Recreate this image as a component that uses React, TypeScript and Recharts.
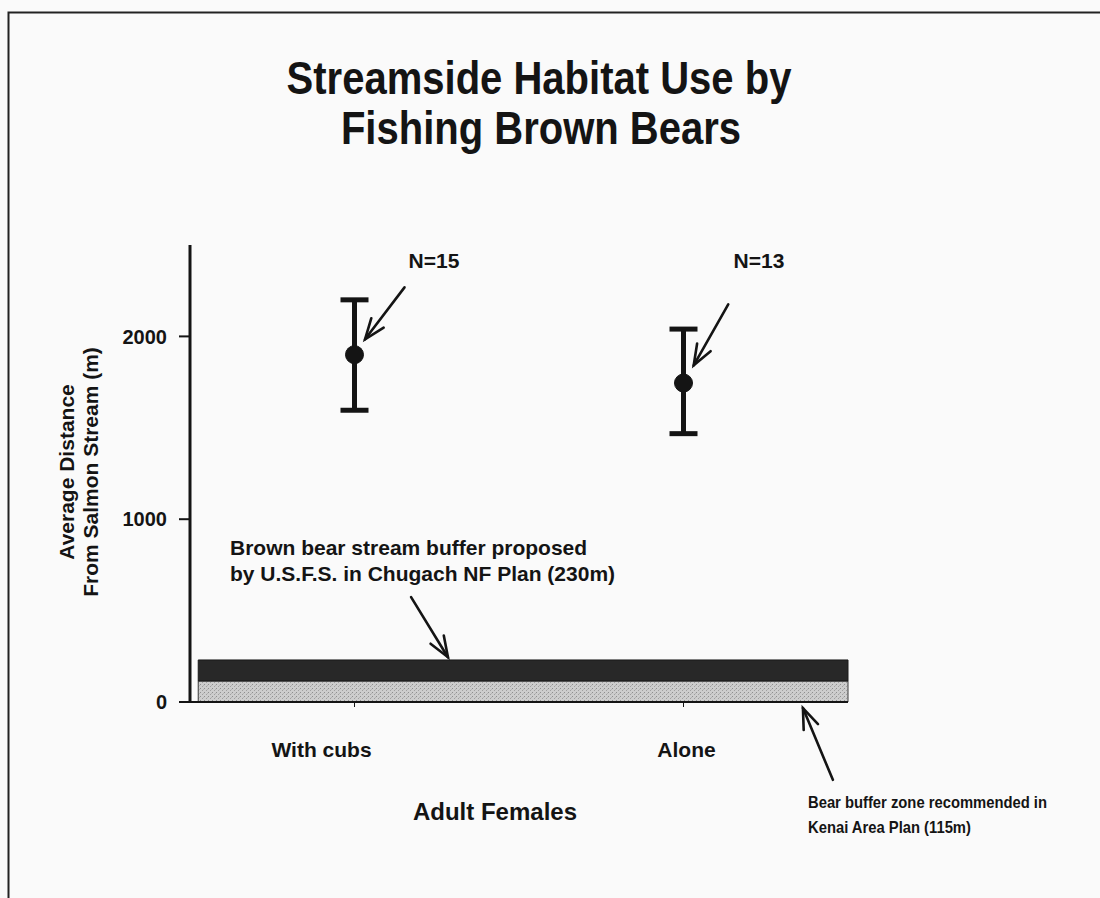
import React from 'react';
import { ComposedChart, Line, ErrorBar, XAxis, YAxis, ReferenceArea, ReferenceLine } from 'recharts';

// group means and error-bar ends (metres from stream)
const groups = ['With cubs', 'Alone'];
const groupPos = [0, 1];
const meanDistance = [1900, 1745];
const lowDistance = [1596, 1468];
const highDistance = [2200, 2040];
const sampleSizes = ['N=15', 'N=13'];
const yTicks = [0, 1000, 2000];
const kenaiBuffer = 115;
const usfsBuffer = 230;

const FONT = '"Liberation Sans", Arial, sans-serif';
const INK = '#141414';

const data = groups.map((name, i) => ({
  name,
  x: groupPos[i],
  mean: meanDistance[i],
  err: [meanDistance[i] - lowDistance[i], highDistance[i] - meanDistance[i]],
}));

// open arrowhead at the end of a reference segment
const arrowShape = (props: any) => {
  const { x1, y1, x2, y2 } = props;
  const ang = Math.atan2(y2 - y1, x2 - x1);
  const len = 22;
  const spread = 0.36;
  const ax = x2 - len * Math.cos(ang - spread);
  const ay = y2 - len * Math.sin(ang - spread);
  const bx = x2 - len * Math.cos(ang + spread);
  const by = y2 - len * Math.sin(ang + spread);
  return (
    <g stroke={INK} strokeWidth={2.6} fill="none" strokeLinecap="round">
      <line x1={x1} y1={y1} x2={x2} y2={y2} />
      <polyline points={`${ax},${ay} ${x2},${y2} ${bx},${by}`} />
    </g>
  );
};

const GroupTick = (props: any) => {
  const { x, y, payload } = props;
  const shift = payload.value === 0 ? -33 : 3;
  return (
    <text x={x + shift} y={y} dy={48} textAnchor="middle" fontFamily={FONT} fontWeight="bold" fontSize={21} fill={INK}>
      {groups[payload.value]}
    </text>
  );
};

export default function App() {
  return (
    <div style={{ position: 'absolute', left: 0, top: 0, width: 1100, height: 898, background: '#fafafa', overflow: 'hidden' }}>
      {/* stipple texture for the light buffer band */}
      <svg width={0} height={0} style={{ position: 'absolute' }}>
        <defs>
          <pattern id="stipple" width={4} height={4} patternUnits="userSpaceOnUse">
            <rect width={4} height={4} fill="#cdcdcd" />
            <rect x={0} y={0} width={1} height={1} fill="#8f8f8f" />
            <rect x={2} y={2} width={1} height={1} fill="#a0a0a0" />
            <rect x={3} y={1} width={1} height={1} fill="#b4b4b4" />
          </pattern>
        </defs>
      </svg>
      <ComposedChart width={1100} height={898} data={data} margin={{ top: 245, right: 252, bottom: 0, left: 0 }}>
        <XAxis
          type="number"
          dataKey="x"
          domain={[-0.5, 1.5]}
          ticks={groupPos}
          height={196}
          axisLine={{ stroke: INK, strokeWidth: 2 }}
          tickLine={{ stroke: INK, strokeWidth: 1 }}
          tickSize={5}
          tick={<GroupTick />}
        />
        <YAxis
          type="number"
          domain={[0, 2500]}
          ticks={yTicks}
          width={190}
          axisLine={{ stroke: INK, strokeWidth: 3 }}
          tickLine={{ stroke: INK, strokeWidth: 2 }}
          tickSize={11}
          tickMargin={12}
          tick={{ fontFamily: FONT, fontWeight: 'bold', fontSize: 20, fill: INK }}
        />
        <ReferenceArea x1={-0.475} x2={1.5} y1={0} y2={kenaiBuffer} fill="url(#stipple)" fillOpacity={1} stroke="#3a3a3a" strokeWidth={1} ifOverflow="visible" />
        <ReferenceArea x1={-0.475} x2={1.5} y1={kenaiBuffer} y2={usfsBuffer} fill="#282828" fillOpacity={1} stroke="#1a1a1a" strokeWidth={1} ifOverflow="visible" />
        <ReferenceLine segment={[{ x: 0.152, y: 2268 }, { x: 0.032, y: 1984 }]} shape={arrowShape} ifOverflow="visible" />
        <ReferenceLine segment={[{ x: 1.136, y: 2175 }, { x: 1.031, y: 1842 }]} shape={arrowShape} ifOverflow="visible" />
        <ReferenceLine segment={[{ x: 0.172, y: 574 }, { x: 0.284, y: 245 }]} shape={arrowShape} ifOverflow="visible" />
        <ReferenceLine segment={[{ x: 1.454, y: -426 }, { x: 1.363, y: -33 }]} shape={arrowShape} ifOverflow="visible" />
        <Line
          dataKey="mean"
          stroke="none"
          dot={{ r: 9, fill: INK, stroke: INK, strokeWidth: 1 }}
          activeDot={false}
          isAnimationActive={false}
        >
          <ErrorBar dataKey="err" direction="y" width={14} strokeWidth={5} stroke={INK} isAnimationActive={false} />
        </Line>
      </ComposedChart>
      <svg width={1100} height={898} style={{ position: 'absolute', left: 0, top: 0, pointerEvents: 'none' }}>
        <path d="M8.5 898 V12.5 H1100" stroke="#222" strokeWidth={2} fill="none" />
        <g fontFamily={FONT} fontWeight="bold" fill={INK}>
          <text transform="translate(539 94) scale(0.87 1)" fontSize={46} textAnchor="middle">Streamside Habitat Use by</text>
          <text transform="translate(541 144) scale(0.87 1)" fontSize={46} textAnchor="middle">Fishing Brown Bears</text>
          <text x={434} y={268} fontSize={21} textAnchor="middle">{sampleSizes[0]}</text>
          <text x={759} y={268} fontSize={21} textAnchor="middle">{sampleSizes[1]}</text>
          <text transform="translate(74 472) rotate(-90)" fontSize={21} textAnchor="middle">Average Distance</text>
          <text transform="translate(98 472) rotate(-90)" fontSize={21} textAnchor="middle">From Salmon Stream (m)</text>
          <text x={230} y={555} fontSize={21}>Brown bear stream buffer proposed</text>
          <text x={230} y={581} fontSize={21}>by U.S.F.S. in Chugach NF Plan (230m)</text>
          <text x={495} y={820} fontSize={24} textAnchor="middle">Adult Females</text>
          <text transform="translate(808 808) scale(0.87 1)" fontSize={17}>Bear buffer zone recommended in</text>
          <text transform="translate(808 833) scale(0.87 1)" fontSize={17}>Kenai Area Plan (115m)</text>
        </g>
      </svg>
    </div>
  );
}
